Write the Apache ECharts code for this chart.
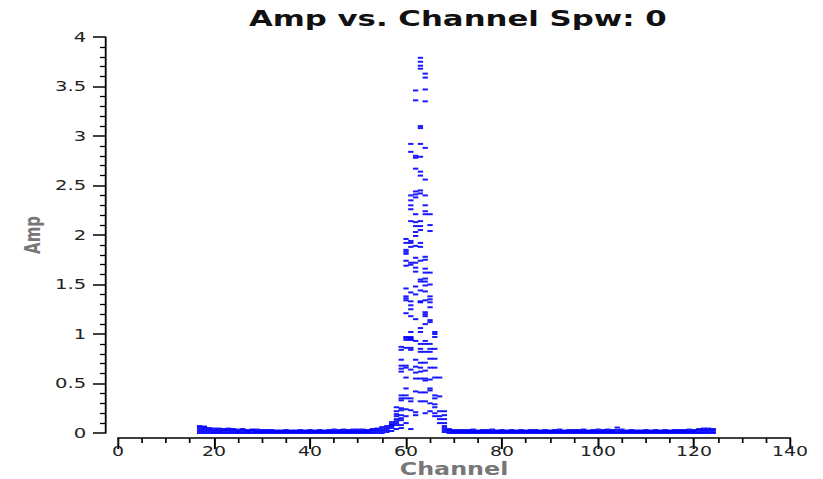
<!DOCTYPE html>
<html>
<head>
<meta charset="utf-8">
<script src="https://cdn.jsdelivr.net/npm/echarts@6/dist/echarts.min.js"></script>
<style>
  html, body { margin: 0; padding: 0; background: #ffffff; overflow: hidden; }
  /* the plot is laid out narrow and widened horizontally as a whole */
  #chart { width: 588px; height: 479px; transform: scaleX(1.4); transform-origin: 0 0; }
</style>
</head>
<body>
<div id="chart"></div>
<script>
// Amplitude samples per channel (several baselines per channel).
// Line channels around the spectral feature.
const peakChannels = [57, 58, 59, 60, 61, 62, 63, 64, 65, 66, 67, 68];
const peakAmps = [
  [0.02, 0.05, 0.07, 0.08, 0.09, 0.11],
  [0.04, 0.08, 0.10, 0.12, 0.14, 0.17, 0.19, 0.22, 0.26],
  [0.05, 0.08, 0.13, 0.15, 0.18, 0.23, 0.25, 0.33, 0.35, 0.38, 0.62, 0.65, 0.68, 0.74, 0.84, 0.87],
  [0.10, 0.17, 0.24, 0.35, 0.38, 0.45, 0.56, 0.66, 0.68, 0.86, 0.94, 0.96, 0.97, 1.21, 1.34, 1.36, 1.38, 1.46, 1.69, 1.74, 1.81, 1.83, 1.85, 1.92, 1.96],
  [0.04, 0.23, 0.32, 0.35, 0.64, 0.84, 0.86, 0.94, 0.95, 0.96, 0.97, 1.02, 1.18, 1.25, 1.29, 1.33, 1.42, 1.70, 1.72, 1.88, 1.92, 1.94, 2.14, 2.26, 2.30, 2.35, 2.40, 2.84, 2.92],
  [0.18, 0.21, 0.42, 0.55, 0.61, 0.67, 0.74, 0.93, 1.15, 1.40, 1.48, 1.63, 1.67, 1.72, 1.77, 1.89, 1.99, 2.03, 2.09, 2.13, 2.21, 2.38, 2.41, 2.44, 2.67, 2.78, 2.80, 3.36, 3.46],
  [0.32, 0.41, 0.55, 0.62, 0.66, 0.71, 0.82, 0.85, 0.90, 1.02, 1.06, 1.32, 1.33, 1.44, 1.53, 1.55, 1.74, 1.88, 1.92, 2.05, 2.09, 2.14, 2.42, 2.45, 2.60, 2.64, 2.79, 2.92, 3.08, 3.10, 3.68, 3.71, 3.75, 3.79],
  [0.20, 0.32, 0.41, 0.53, 0.55, 0.63, 0.71, 0.82, 0.90, 0.93, 1.10, 1.18, 1.20, 1.22, 1.34, 1.43, 1.49, 1.53, 1.56, 1.62, 1.66, 1.75, 1.78, 2.21, 2.24, 2.30, 2.40, 2.56, 2.88, 3.35, 3.47, 3.59, 3.63],
  [0.22, 0.30, 0.43, 0.45, 0.54, 0.66, 0.75, 0.82, 0.85, 0.90, 1.12, 1.14, 1.27, 1.32, 1.35, 1.38, 1.50, 1.62, 2.04, 2.10, 2.21],
  [0.17, 0.20, 0.26, 0.29, 0.35, 0.38, 0.56, 0.66, 0.75, 0.85, 0.97, 1.00, 1.02],
  [0.10, 0.14, 0.17, 0.22, 0.37, 0.56],
  [0.01, 0.03, 0.05, 0.07, 0.10, 0.14, 0.18, 0.22]
];

// Continuum channels on either side of the feature.
const baseChannels = [
  17, 18, 19, 20, 21, 22, 23, 24, 25, 26, 27, 28, 29, 30, 31, 32, 33, 34, 35, 36,
  37, 38, 39, 40, 41, 42, 43, 44, 45, 46, 47, 48, 49, 50, 51, 52, 53, 54, 55, 56,
  69, 70, 71, 72, 73, 74, 75, 76, 77, 78, 79, 80, 81, 82, 83, 84, 85, 86, 87, 88,
  89, 90, 91, 92, 93, 94, 95, 96, 97, 98, 99, 100, 101, 102, 103, 104, 105, 106, 107, 108,
  109, 110, 111, 112, 113, 114, 115, 116, 117, 118, 119, 120, 121, 122, 123, 124
];
const baseAmps = [
  [0.0, 0.02, 0.04, 0.06, 0.07], [0.0, 0.02, 0.04, 0.055, 0.065], [0.0, 0.02, 0.035, 0.05], [0.0, 0.015, 0.03, 0.045],
  [0.0, 0.015, 0.03, 0.045], [0.0, 0.015, 0.03, 0.04], [0.0, 0.015, 0.03, 0.045], [0.0, 0.015, 0.03, 0.04],
  [0.0, 0.01, 0.02, 0.035], [0.0, 0.015, 0.03, 0.04], [0.0, 0.01, 0.02, 0.03], [0.0, 0.015, 0.03, 0.035],
  [0.0, 0.01, 0.02, 0.035], [0.0, 0.01, 0.02, 0.03], [0.0, 0.01, 0.02, 0.03], [0.0, 0.01, 0.02, 0.03],
  [0.0, 0.01, 0.02, 0.025], [0.0, 0.01, 0.02, 0.025], [0.0, 0.01, 0.02, 0.03], [0.0, 0.01, 0.02, 0.025],
  [0.0, 0.01, 0.02, 0.025], [0.0, 0.01, 0.02, 0.03], [0.0, 0.01, 0.02, 0.025], [0.0, 0.01, 0.02, 0.03],
  [0.0, 0.01, 0.02, 0.025], [0.0, 0.01, 0.02, 0.03], [0.0, 0.01, 0.02, 0.025], [0.0, 0.01, 0.02, 0.03],
  [0.0, 0.01, 0.02, 0.035], [0.0, 0.01, 0.02, 0.03], [0.0, 0.01, 0.02, 0.035], [0.0, 0.01, 0.02, 0.03],
  [0.0, 0.01, 0.02, 0.035], [0.0, 0.01, 0.02, 0.035], [0.0, 0.01, 0.02, 0.035], [0.0, 0.01, 0.02, 0.03],
  [0.0, 0.015, 0.03, 0.04], [0.0, 0.02, 0.035, 0.045], [0.0, 0.02, 0.04, 0.06], [0.01, 0.03, 0.05, 0.07],
  [0.0, 0.015, 0.03, 0.04], [0.0, 0.01, 0.02, 0.03], [0.0, 0.01, 0.02, 0.03], [0.0, 0.01, 0.02, 0.03],
  [0.0, 0.01, 0.02, 0.03], [0.0, 0.01, 0.02, 0.035], [0.0, 0.01, 0.02, 0.025], [0.0, 0.01, 0.02, 0.03],
  [0.0, 0.01, 0.02, 0.03], [0.0, 0.01, 0.02, 0.035], [0.0, 0.01, 0.02, 0.025], [0.0, 0.01, 0.02, 0.03],
  [0.0, 0.01, 0.02, 0.025], [0.0, 0.01, 0.02, 0.03], [0.0, 0.01, 0.02, 0.025], [0.0, 0.01, 0.02, 0.03],
  [0.0, 0.01, 0.02, 0.025], [0.0, 0.01, 0.02, 0.03], [0.0, 0.01, 0.02, 0.03], [0.0, 0.01, 0.02, 0.025],
  [0.0, 0.01, 0.02, 0.03], [0.0, 0.01, 0.02, 0.025], [0.0, 0.01, 0.02, 0.03], [0.0, 0.01, 0.02, 0.035],
  [0.0, 0.01, 0.02, 0.025], [0.0, 0.01, 0.02, 0.03], [0.0, 0.01, 0.02, 0.03], [0.0, 0.01, 0.02, 0.03],
  [0.0, 0.01, 0.02, 0.035], [0.0, 0.01, 0.02, 0.025], [0.0, 0.01, 0.02, 0.03], [0.0, 0.01, 0.02, 0.035],
  [0.0, 0.01, 0.02, 0.03], [0.0, 0.01, 0.02, 0.035], [0.0, 0.01, 0.02, 0.03], [0.0, 0.01, 0.03, 0.055],
  [0.0, 0.01, 0.02, 0.035], [0.0, 0.01, 0.02, 0.025], [0.0, 0.01, 0.02, 0.03], [0.0, 0.01, 0.02, 0.025],
  [0.0, 0.01, 0.02, 0.025], [0.0, 0.01, 0.02, 0.03], [0.0, 0.01, 0.02, 0.025], [0.0, 0.01, 0.02, 0.03],
  [0.0, 0.01, 0.02, 0.025], [0.0, 0.01, 0.02, 0.03], [0.0, 0.01, 0.02, 0.025], [0.0, 0.01, 0.02, 0.03],
  [0.0, 0.01, 0.02, 0.03], [0.0, 0.01, 0.02, 0.03], [0.0, 0.01, 0.02, 0.035], [0.0, 0.01, 0.02, 0.03],
  [0.0, 0.01, 0.03, 0.04], [0.0, 0.015, 0.03, 0.045], [0.0, 0.015, 0.03, 0.045], [0.0, 0.01, 0.03, 0.04]
];

// Axis ranges and tick settings
const xRange = [0, 140];
const xStep = 20;
const yRange = [0, 4];
const yStep = 0.5;
const titleText = 'Amp vs. Channel Spw: 0';
const xName = 'Channel';
const yName = 'Amp';

function toPoints(chs, amps) {
  const pts = [];
  chs.forEach((c, i) => amps[i].forEach(a => pts.push([c, a])));
  return pts;
}

const points = toPoints(baseChannels, baseAmps).concat(toPoints(peakChannels, peakAmps));

const chart = echarts.init(document.getElementById('chart'), null, { renderer: 'svg' });
const axisText = { color: '#222', fontFamily: 'DejaVu Sans' };
const nameText = { color: '#777', fontFamily: 'DejaVu Sans', fontWeight: 'bold' };

chart.setOption({
  animation: false,
  backgroundColor: '#ffffff',
  title: {
    text: titleText,
    left: 322,
    top: 2,
    textAlign: 'center',
    textStyle: { color: '#111', fontFamily: 'DejaVu Sans', fontWeight: 'bold', fontSize: 22 }
  },
  grid: { left: 84.3, right: 23.7, top: 37, bottom: 46, containLabel: false, outerBoundsMode: 'none' },
  xAxis: {
    type: 'value',
    min: xRange[0], max: xRange[1], interval: xStep,
    offset: 5,
    name: xName, nameLocation: 'middle', nameGap: 23, nameMoveOverlap: false,
    nameTextStyle: Object.assign({ fontSize: 17, lineHeight: 16 }, nameText),
    axisLine: { show: true, onZero: false, lineStyle: { color: '#000', width: 1.6 } },
    axisTick: { show: true, inside: false, length: 11, lineStyle: { color: '#000', width: 1.4 } },
    minorTick: { show: true, splitNumber: 4, length: 5, lineStyle: { color: '#000', width: 1.2 } },
    axisLabel: Object.assign({ margin: 6, lineHeight: 14, fontSize: 13.5 }, axisText),
    splitLine: { show: false }
  },
  yAxis: {
    type: 'value',
    min: yRange[0], max: yRange[1], interval: yStep,
    offset: 9.3,
    name: yName, nameLocation: 'middle', nameGap: 44, nameRotate: 90, nameMoveOverlap: false,
    nameTextStyle: Object.assign({ fontSize: 15 }, nameText),
    axisLine: { show: true, onZero: false, lineStyle: { color: '#000', width: 1.3 } },
    axisTick: { show: true, inside: false, length: 8.6, lineStyle: { color: '#000', width: 1.5 } },
    minorTick: { show: true, splitNumber: 5, length: 3.6, lineStyle: { color: '#000', width: 1.3 } },
    axisLabel: Object.assign({ margin: 13.5, fontSize: 14 }, axisText),
    splitLine: { show: false }
  },
  series: [{
    type: 'scatter',
    data: points,
    symbol: 'rect',
    symbolSize: [3.8, 2],
    itemStyle: { color: '#0000ff', opacity: 0.9 },
    silent: true
  }]
});
</script>
</body>
</html>
